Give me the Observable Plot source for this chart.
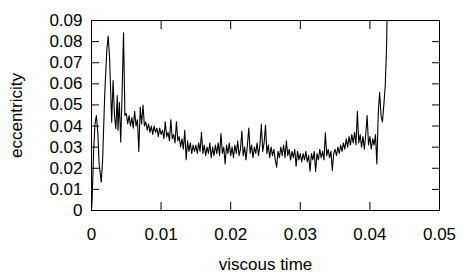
<!DOCTYPE html>
<html>
<head>
<meta charset="utf-8">
<script src="https://cdn.jsdelivr.net/npm/d3@7"></script>
<script src="https://cdn.jsdelivr.net/npm/@observablehq/plot@0.6"></script>
<style>
  html, body { margin: 0; padding: 0; background: #fff; }
</style>
</head>
<body>
<div id="chart"></div>
<script>
const time = [
  0, 0.0001, 0.0003, 0.0005, 0.0007, 0.0009, 0.0011, 0.0014, 0.0016, 0.0019,
  0.0022, 0.0024, 0.0026, 0.0029, 0.0031, 0.0033, 0.0035, 0.0037, 0.0038, 0.0040,
  0.0042, 0.0044, 0.0046, 0.0048,
  0.0050, 0.0052, 0.0054, 0.0056, 0.0058, 0.0060, 0.0062, 0.0064, 0.0066, 0.0068,
  0.0070, 0.0072, 0.0074, 0.0076, 0.0078, 0.0080, 0.0082, 0.0084, 0.0086, 0.0088,
  0.0090, 0.0092, 0.0094, 0.0096, 0.0098, 0.0100, 0.0102, 0.0104, 0.0106, 0.0108,
  0.0110, 0.0112, 0.0114, 0.0116, 0.0118, 0.0120, 0.0122, 0.0124, 0.0126, 0.0128,
  0.0130, 0.0132, 0.0134, 0.0136, 0.0138, 0.0140, 0.0142, 0.0144, 0.0146, 0.0148,
  0.0150, 0.0152, 0.0154, 0.0156, 0.0158, 0.0160, 0.0162, 0.0164, 0.0166, 0.0168,
  0.0170, 0.0172, 0.0174, 0.0176, 0.0178, 0.0180, 0.0182, 0.0184, 0.0186, 0.0188,
  0.0190, 0.0192, 0.0194, 0.0196, 0.0198, 0.0200, 0.0202, 0.0204, 0.0206, 0.0208,
  0.0210, 0.0212, 0.0214, 0.0216, 0.0218, 0.0220, 0.0222, 0.0224, 0.0226, 0.0228,
  0.0230, 0.0232, 0.0234, 0.0236, 0.0238, 0.0240, 0.0242, 0.0244, 0.0246, 0.0248,
  0.0250, 0.0252, 0.0254, 0.0256, 0.0258, 0.0260, 0.0262, 0.0264, 0.0266, 0.0268,
  0.0270, 0.0272, 0.0274, 0.0276, 0.0278, 0.0280, 0.0282, 0.0284, 0.0286, 0.0288,
  0.0290, 0.0292, 0.0294, 0.0296, 0.0298, 0.0300, 0.0302, 0.0304, 0.0306, 0.0308,
  0.0310, 0.0312, 0.0314, 0.0316, 0.0318, 0.0320, 0.0322, 0.0324, 0.0326, 0.0328,
  0.0330, 0.0332, 0.0334, 0.0336, 0.0338, 0.0340, 0.0342, 0.0344, 0.0346, 0.0348,
  0.0350, 0.0352, 0.0354, 0.0356, 0.0358, 0.0360, 0.0362, 0.0364, 0.0366, 0.0368,
  0.0370, 0.0372, 0.0374, 0.0376, 0.0378, 0.0380, 0.0382, 0.0384, 0.0386, 0.0388,
  0.0390, 0.0392, 0.0394, 0.0396, 0.0398, 0.0400, 0.0402, 0.0404, 0.0406, 0.0408,
  0.0410, 0.0412, 0.0414, 0.0416, 0.0418, 0.0420, 0.0422, 0.0424, 0.0425
];

const eccentricity = [
  0, 0.006, 0.028, 0.041, 0.045, 0.037, 0.022, 0.0134, 0.024, 0.055,
  0.076, 0.0826, 0.072, 0.0418, 0.0616, 0.045, 0.0388, 0.0545, 0.038, 0.0513,
  0.0324, 0.056, 0.0842, 0.045,
  0.046, 0.041, 0.045, 0.040, 0.044, 0.039, 0.047, 0.040, 0.043, 0.028,
  0.049, 0.041, 0.050, 0.040, 0.042, 0.038, 0.041, 0.037, 0.040, 0.036,
  0.040, 0.037, 0.039, 0.035, 0.039, 0.036, 0.038, 0.034, 0.042, 0.035,
  0.037, 0.033, 0.043, 0.034, 0.036, 0.032, 0.042, 0.033, 0.035, 0.030,
  0.034, 0.029, 0.038, 0.024, 0.033, 0.028, 0.032, 0.027, 0.031, 0.028,
  0.031, 0.027, 0.032, 0.028, 0.037, 0.027, 0.031, 0.026, 0.030, 0.027,
  0.032, 0.025, 0.030, 0.026, 0.031, 0.027, 0.032, 0.026, 0.0365, 0.027,
  0.030, 0.022, 0.031, 0.027, 0.032, 0.026, 0.030, 0.025, 0.031, 0.027,
  0.033, 0.026, 0.029, 0.0375, 0.026, 0.030, 0.024, 0.031, 0.039, 0.027,
  0.031, 0.025, 0.030, 0.027, 0.032, 0.026, 0.031, 0.041, 0.028, 0.032,
  0.0405, 0.027, 0.031, 0.025, 0.030, 0.026, 0.029, 0.024, 0.0205, 0.028,
  0.025, 0.030, 0.026, 0.031, 0.025, 0.033, 0.026, 0.029, 0.024, 0.028,
  0.025, 0.029, 0.021, 0.028, 0.024, 0.027, 0.023, 0.027, 0.024, 0.028,
  0.023, 0.026, 0.0186, 0.027, 0.024, 0.028, 0.0185, 0.027, 0.024, 0.029,
  0.025, 0.028, 0.024, 0.0368, 0.026, 0.029, 0.025, 0.028, 0.019, 0.027,
  0.029, 0.026, 0.030, 0.027, 0.031, 0.028, 0.032, 0.029, 0.034, 0.030,
  0.035, 0.031, 0.036, 0.032, 0.037, 0.031, 0.047, 0.032, 0.036, 0.030,
  0.035, 0.029, 0.036, 0.045, 0.031, 0.035, 0.029, 0.034, 0.031, 0.036,
  0.022, 0.046, 0.056, 0.045, 0.042, 0.050, 0.059, 0.078, 0.100
];

const xTicks = [0, 0.01, 0.02, 0.03, 0.04, 0.05];
const xTickLabels = ["0", "0.01", "0.02", "0.03", "0.04", "0.05"];
const yTicks = [0, 0.01, 0.02, 0.03, 0.04, 0.05, 0.06, 0.07, 0.08, 0.09];
const yTickLabels = ["0", "0.01", "0.02", "0.03", "0.04", "0.05", "0.06", "0.07", "0.08", "0.09"];
const xLabel = "viscous time";
const yLabel = "eccentricity";

const data = time.map((t, i) => ({t, e: eccentricity[i]}));
const xFmt = d => xTickLabels[xTicks.indexOf(d)];
const yFmt = d => yTickLabels[yTicks.indexOf(d)];
const blank = () => "";

const chart = Plot.plot({
  width: 463,
  height: 278,
  marginLeft: 91,
  marginRight: 24,
  marginTop: 20,
  marginBottom: 68,
  style: {fontFamily: "'Liberation Sans', Arial, Helvetica, sans-serif", fontSize: "17px", background: "#fff", color: "#000", overflow: "visible"},
  x: {domain: [0, 0.05]},
  y: {domain: [0, 0.09]},
  marks: [
    Plot.line(data, {x: "t", y: "e", stroke: "#000", strokeWidth: 1.1, clip: true}),
    Plot.frame({stroke: "#000", strokeWidth: 1}),
    // inward ticks on all four sides
    Plot.axisX(xTicks, {anchor: "bottom", tickSize: 8, dy: -8, tickFormat: blank, label: null, stroke: "#000"}),
    Plot.axisX(xTicks, {anchor: "top", tickSize: 8, dy: 8, tickFormat: blank, label: null, stroke: "#000"}),
    Plot.axisY(yTicks, {anchor: "left", tickSize: 8, dx: 8, tickFormat: blank, label: null, stroke: "#000"}),
    Plot.axisY(yTicks, {anchor: "right", tickSize: 8, dx: -8, tickFormat: blank, label: null, stroke: "#000"}),
    // tick labels
    Plot.axisX(xTicks, {anchor: "bottom", tickSize: 0, tickPadding: 17, tickFormat: xFmt, label: null, fontSize: 17, fill: "#000"}),
    Plot.axisY(yTicks, {anchor: "left", tickSize: 0, tickPadding: 9, tickFormat: yFmt, label: null, fontSize: 17, fill: "#000"}),
    // axis titles
    Plot.text([xLabel], {frameAnchor: "bottom", textAnchor: "middle", lineAnchor: "middle", dy: 54, fontSize: 17, fill: "#000"}),
    Plot.text([yLabel], {frameAnchor: "left", textAnchor: "middle", lineAnchor: "middle", dx: -75, rotate: -90, fontSize: 17, fill: "#000"})
  ]
});
document.getElementById("chart").appendChild(chart);
</script>
</body>
</html>
